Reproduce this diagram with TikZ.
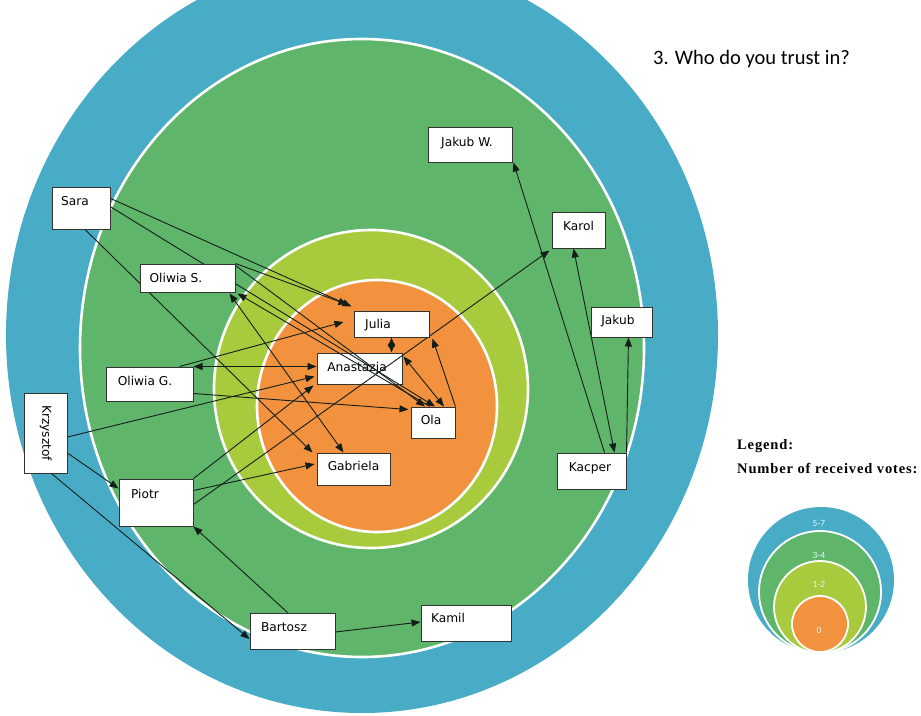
\documentclass[tikz,border=0pt]{standalone}
\usepackage{fontspec}
\setmainfont{DejaVu Sans}
\newfontfamily\titlefont{Carlito}
\newfontfamily\legfont[LetterSpace=6]{Liberation Serif}
\usetikzlibrary{arrows.meta,calc}
\pgfdeclarelayer{bg}
\pgfdeclarelayer{low}
\pgfdeclarelayer{mid}
\pgfsetlayers{bg,low,mid,main}
\definecolor{cblue}{RGB}{73,172,198}
\definecolor{cgreen}{RGB}{95,181,106}
\definecolor{cyg}{RGB}{168,203,62}
\definecolor{corange}{RGB}{242,146,62}
\definecolor{lnk}{RGB}{20,30,25}
\begin{document}
\begin{tikzpicture}[x=1pt,y=-1pt,
  >={Triangle[length=9pt,width=7pt]},
  box/.style 2 args={draw=black!80, fill=white, line width=1pt, inner sep=0pt, minimum width=#1pt, minimum height=#2pt},
  lbl/.style={font=\fontsize{12.2}{14}\selectfont, inner sep=0pt, text height=8.8pt, text depth=2.4pt},
  conn/.style={draw=lnk, line width=0.9pt},
  ring/.style={draw=white, line width=2.6pt},
  lring/.style={draw=white, line width=1.8pt},
  legnum/.style={font=\titlefont\fontsize{9.5}{11}\selectfont, text=white!88!cyan, inner sep=0pt}]
\useasboundingbox (0,0) rectangle (921,715);
\begin{pgfonlayer}{bg}
  \clip (0,0) rectangle (921,715);
  \fill[white] (0,0) rectangle (921,715);
  \fill[cblue] (362,335) ellipse [x radius=356, y radius=378];
  \filldraw[fill=cgreen, ring] (362,348) ellipse [x radius=282, y radius=309];
  \filldraw[fill=cyg, ring] (371,389) ellipse [x radius=157, y radius=159];
  \filldraw[fill=corange, ring] (377,406) ellipse [x radius=120, y radius=126];
  % legend circles
  \fill[cblue] (821,580) circle [radius=73];
  \filldraw[fill=cgreen, lring] (820,592) circle [radius=61];
  \filldraw[fill=cyg, lring] (820,607) circle [radius=46];
  \filldraw[fill=corange, lring] (820,624) circle [radius=28];
\end{pgfonlayer}

\node[legnum] (l57) at (819,523) {5-7};
\node[legnum] (l34) at (819,555) {3-4};
\node[legnum] (l12) at (819,584) {1-2};
\node[legnum] (l0) at (819,630) {0};

\node[font=\titlefont\fontsize{20.5}{24}\selectfont, anchor=west, inner sep=0pt] (title) at (653,59) {3. Who do you trust in?};
\node[font=\legfont\bfseries\fontsize{14.5}{17}\selectfont, anchor=west, inner sep=0pt] (leg1) at (737,446) {Legend:};
\node[font=\legfont\bfseries\fontsize{14.5}{17}\selectfont, anchor=west, inner sep=0pt] (leg2) at (737,468) {Number of received votes:};

% nodes
\begin{pgfonlayer}{low}
\node[box={85}{31}, label={[lbl,xshift=-2.5pt]center:Anastazja}] (anastazja) at (359.5,368.5) {};
\end{pgfonlayer}
\node[box={58}{42}, label={[lbl,xshift=-6pt,yshift=6pt]center:Sara}] (sara) at (81,208) {};
\node[box={95}{28}, label={[lbl,xshift=-11.5pt,yshift=-1pt]center:Oliwia S.}] (oliwias) at (187.5,278) {};
\node[box={87}{34}, label={[lbl,xshift=-4.5pt,yshift=2pt]center:Oliwia G.}] (oliwiag) at (149.5,384) {};
\node[box={43}{80}, label={[lbl,rotate=-90]center:Krzysztof}] (krzysztof) at (45.5,433) {};
\node[box={74}{47}, label={[lbl,xshift=-11pt,yshift=7.5pt]center:Piotr}] (piotr) at (156,502.5) {};
\node[box={85}{36}, label={[lbl,xshift=-8.5pt,yshift=3pt]center:Bartosz}] (bartosz) at (292.5,631) {};
\node[box={90}{36}, label={[lbl,xshift=-18pt,yshift=4pt]center:Kamil}] (kamil) at (466,623) {};
\node[box={73}{32}, label={[lbl,yshift=2pt]center:Gabriela}] (gabriela) at (353.5,469) {};
\node[box={75}{26}, label={[lbl,xshift=-13.5pt,yshift=-1pt]center:Julia}] (julia) at (391.5,324) {};
\node[box={44}{31}, label={[lbl,xshift=-2pt,yshift=1.5pt]center:Ola}] (ola) at (433,422.5) {};
\node[box={84}{35}, label={[lbl,xshift=-3pt,yshift=1.5pt]center:Jakub W.}] (jakubw) at (470,144.5) {};
\node[box={53}{36}, label={[lbl,yshift=3pt]center:Karol}] (karol) at (578.5,230) {};
\node[box={61}{30}, label={[lbl,xshift=-3.5pt,yshift=1pt]center:Jakub}] (jakub) at (621.5,322) {};
\node[box={69}{36}, label={[lbl,xshift=-1.5pt,yshift=3pt]center:Kacper}] (kacper) at (591.5,471) {};

% connectors
\begin{pgfonlayer}{mid}
\draw[conn,->] ($(sara.north east)+(-2,11)$) -- ($(julia.north west)+(-2,-4)$);
\draw[conn,->] ($(sara.north east)+(-2,19)$) -- ($(ola.north)+(2,0)$);
\draw[conn,->] ($(sara.south)+(4,0)$) -- ($(gabriela.north west)+(-4,0)$);
\draw[conn,->] (oliwias.north east) -- ($(julia.north west)+(-6,-6)$);
\draw[conn,->] ($(oliwias.north east)+(0,2)$) -- ($(ola.north)+(-8,0)$);
\draw[conn,<->] ($(oliwias.south east)+(-6,1)$) -- ($(gabriela.north)+(-10,0)$);
\draw[conn,->] ($(ola.north)+(-3,0)$) -- ($(oliwias.south east)+(2,1)$);
\draw[conn,<->] ($(anastazja.north east)+(1,4)$) -- ($(ola.north)+(11,0)$);
\draw[conn,<->] (julia.south) -- (julia.south |- anastazja.north);
\draw[conn,->] (ola.north east) -- ($(julia.south east)+(3,1)$);
\draw[conn,->] ($(oliwiag.north)+(30,0)$) -- ($(julia.west)+(-10,-2)$);
\draw[conn,<->] (oliwiag.north east) -- (anastazja.west |- oliwiag.north east);
\draw[conn,->] ($(oliwiag.south east)+(0,-8)$) -- ($(ola.north west)+(-2,3)$);
\draw[conn,->] ($(krzysztof.east)+(0,4)$) -- ($(anastazja.west)+(-2,8)$);
\draw[conn,->] ($(krzysztof.east)+(0,20)$) -- ($(piotr.north west)+(0,10)$);
\draw[conn,->] ($(krzysztof.south)+(6,0)$) -- ($(bartosz.west)+(0,8)$);
\draw[conn,->] (piotr.north east) -- ($(anastazja.south west)+(-3,1)$);
\draw[conn,->] ($(piotr.east)+(0,-12)$) -- ($(gabriela.west)+(-2,-5)$);
\draw[conn,->] ($(piotr.east)+(0,2)$) -- ($(karol.south west)+(-2,2)$);
\draw[conn,->] ($(bartosz.north)+(-5,0)$) -- (piotr.south east);
\draw[conn,->] ($(bartosz.east)+(0,1)$) -- ($(kamil.west)+(0,-1)$);
\draw[conn,->] ($(kacper.north)+(13,0)$) -- ($(jakubw.south east)+(1,0)$);
\draw[conn,<->] ($(kacper.north)+(23,0)$) -- ($(karol.south)+(-5,0)$);
\draw[conn,->] (kacper.north east) -- ($(jakub.south)+(7,0)$);
\end{pgfonlayer}
\end{tikzpicture}
\end{document}
